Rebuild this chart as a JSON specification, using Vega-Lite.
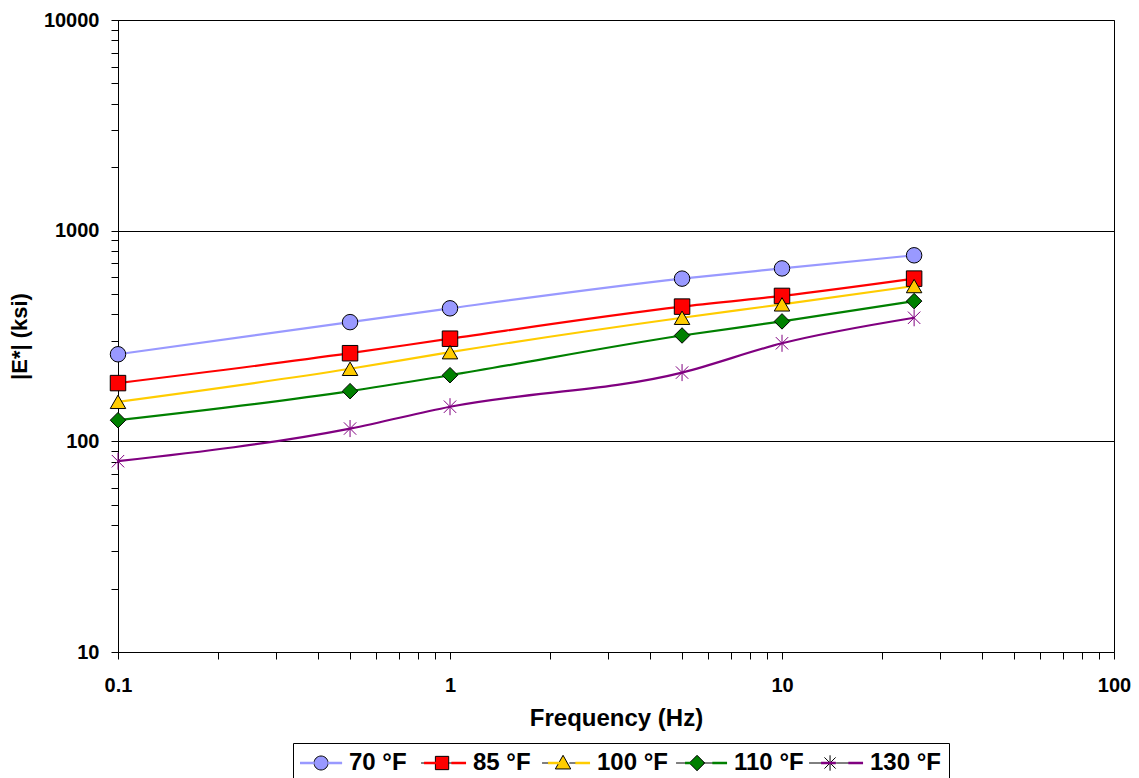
{
  "$schema": "https://vega.github.io/schema/vega-lite/v6.json",
  "width": 996,
  "height": 632,
  "autosize": {"type": "none"},
  "padding": {"left": 118, "top": 20, "right": 25, "bottom": 126},
  "background": "white",
  "config": {
    "view": {"stroke": "#000", "strokeWidth": 1},
    "font": "Liberation Sans",
    "axis": {
      "labelFont": "Liberation Sans", "labelFontWeight": "bold", "labelFontSize": 20, "labelColor": "#000",
      "titleFont": "Liberation Sans", "titleFontWeight": "bold", "titleColor": "#000",
      "domainColor": "#000", "tickColor": "#000", "tickSize": 7, "domainWidth": 1, "tickWidth": 1,
      "labelOverlap": false, "labelFlush": false
    },
    "legend": {
      "labelFont": "Liberation Sans", "labelFontWeight": "bold", "labelFontSize": 24, "labelColor": "#000",
      "symbolSize": 196, "symbolStrokeWidth": 2, "symbolOpacity": 1, "labelOffset": 24, "columnPadding": 12, "padding": 8
    }
  },
  "data": {"values": [
    {"freq": 0.1, "E": 259, "series": "70 °F"},
    {"freq": 0.5, "E": 368, "series": "70 °F"},
    {"freq": 1, "E": 428, "series": "70 °F"},
    {"freq": 5, "E": 592, "series": "70 °F"},
    {"freq": 10, "E": 662, "series": "70 °F"},
    {"freq": 25, "E": 764, "series": "70 °F"},
    {"freq": 0.1, "E": 189, "series": "85 °F"},
    {"freq": 0.5, "E": 262, "series": "85 °F"},
    {"freq": 1, "E": 307, "series": "85 °F"},
    {"freq": 5, "E": 436, "series": "85 °F"},
    {"freq": 10, "E": 490, "series": "85 °F"},
    {"freq": 25, "E": 592, "series": "85 °F"},
    {"freq": 0.1, "E": 154, "series": "100 °F"},
    {"freq": 0.5, "E": 221, "series": "100 °F"},
    {"freq": 1, "E": 265, "series": "100 °F"},
    {"freq": 5, "E": 386, "series": "100 °F"},
    {"freq": 10, "E": 447, "series": "100 °F"},
    {"freq": 25, "E": 546, "series": "100 °F"},
    {"freq": 0.1, "E": 126, "series": "110 °F"},
    {"freq": 0.5, "E": 173, "series": "110 °F"},
    {"freq": 1, "E": 206, "series": "110 °F"},
    {"freq": 5, "E": 318, "series": "110 °F"},
    {"freq": 10, "E": 371, "series": "110 °F"},
    {"freq": 25, "E": 463, "series": "110 °F"},
    {"freq": 0.1, "E": 80.5, "series": "130 °F"},
    {"freq": 0.5, "E": 115, "series": "130 °F"},
    {"freq": 1, "E": 146, "series": "130 °F"},
    {"freq": 5, "E": 212, "series": "130 °F"},
    {"freq": 10, "E": 292, "series": "130 °F"},
    {"freq": 25, "E": 386, "series": "130 °F"}
  ]},
  "layer": [
    {
      "mark": {"type": "line", "interpolate": "monotone", "strokeWidth": 2.2},
      "encoding": {
        "x": {
          "field": "freq", "type": "quantitative",
          "scale": {"type": "log", "domain": [0.1, 100], "nice": false},
          "axis": {
            "title": "Frequency (Hz)", "titleFontSize": 24, "titlePadding": 11,
            "values": [0.1,0.2,0.3,0.4,0.5,0.6,0.7,0.8,0.9,1,2,3,4,5,6,7,8,9,10,20,30,40,50,60,70,80,90,100],
            "labelExpr": "datum.value === 0.1 ? '0.1' : datum.value === 1 ? '1' : datum.value === 10 ? '10' : datum.value === 100 ? '100' : ''",
            "grid": false, "labelPadding": 16
          }
        },
        "y": {
          "field": "E", "type": "quantitative",
          "scale": {"type": "log", "domain": [10, 10000], "nice": false},
          "axis": {
            "title": "|E*| (ksi)", "titleFontSize": 22, "titlePadding": 12,
            "values": [10,20,30,40,50,60,70,80,90,100,200,300,400,500,600,700,800,900,1000,2000,3000,4000,5000,6000,7000,8000,9000,10000],
            "labelExpr": "datum.value === 10 ? '10' : datum.value === 100 ? '100' : datum.value === 1000 ? '1000' : datum.value === 10000 ? '10000' : ''",
            "grid": true, "gridColor": "#000", "gridWidth": 1,
            "gridOpacity": {"condition": {"test": "datum.value === 100 || datum.value === 1000 || datum.value === 10000", "value": 1}, "value": 0},
            "labelPadding": 12
          }
        },
        "stroke": {
          "field": "series", "type": "nominal",
          "sort": ["70 °F", "85 °F", "100 °F", "110 °F", "130 °F"],
          "scale": {"range": ["#9999FF", "#FF0000", "#FFCC00", "#008000", "#800080"]},
          "legend": null
        }
      }
    },
    {
      "transform": [{"filter": "datum.series === '70 °F'"}],
      "mark": {"type": "point", "shape": "circle", "filled": true, "fill": "#9999FF", "stroke": "#000", "strokeWidth": 1, "size": 240, "opacity": 1},
      "encoding": {"x": {"field": "freq", "type": "quantitative"}, "y": {"field": "E", "type": "quantitative"}}
    },
    {
      "transform": [{"filter": "datum.series === '85 °F'"}],
      "mark": {"type": "point", "shape": "square", "filled": true, "fill": "#FF0000", "stroke": "#000", "strokeWidth": 1, "size": 240, "opacity": 1},
      "encoding": {"x": {"field": "freq", "type": "quantitative"}, "y": {"field": "E", "type": "quantitative"}}
    },
    {
      "transform": [{"filter": "datum.series === '100 °F'"}],
      "mark": {"type": "point", "shape": "triangle-up", "filled": true, "fill": "#FFCC00", "stroke": "#000", "strokeWidth": 1, "size": 240, "opacity": 1},
      "encoding": {"x": {"field": "freq", "type": "quantitative"}, "y": {"field": "E", "type": "quantitative"}}
    },
    {
      "transform": [{"filter": "datum.series === '110 °F'"}],
      "mark": {"type": "point", "shape": "diamond", "filled": true, "fill": "#008000", "stroke": "#000", "strokeWidth": 1, "size": 240, "opacity": 1},
      "encoding": {"x": {"field": "freq", "type": "quantitative"}, "y": {"field": "E", "type": "quantitative"}}
    },
    {
      "transform": [{"filter": "datum.series === '130 °F'"}],
      "mark": {"type": "point", "shape": "M0,-1.1V1.1M-0.8,-0.8L0.8,0.8M-0.8,0.8L0.8,-0.8", "filled": false, "stroke": "#800080", "strokeWidth": 1, "size": 240, "opacity": 1},
      "encoding": {"x": {"field": "freq", "type": "quantitative"}, "y": {"field": "E", "type": "quantitative"}}
    },
    {
      "mark": {"type": "point", "filled": true, "opacity": 0},
      "encoding": {
        "x": {"field": "freq", "type": "quantitative"},
        "y": {"field": "E", "type": "quantitative"},
        "fill": {
          "field": "series", "type": "nominal",
          "scale": {"domain": ["70 °F", "85 °F", "100 °F", "110 °F", "130 °F"], "range": ["#9999FF", "#FF0000", "#FFCC00", "#008000", "#800080"]},
          "legend": {
            "title": null, "orient": "none", "legendX": 175, "legendY": 723,
            "direction": "horizontal", "columns": 5, "labelOpacity": 0, "symbolStrokeColor": "#000",
            "encode": {"symbols": {"update": {
              "opacity": {"value": 1},
              "strokeWidth": {"value": 1},
              "stroke": {"condition": {"test": "datum.value === '130 °F'", "value": "#800080"}, "value": "#000"}
            }}}
          }
        },
        "shape": {
          "field": "series", "type": "nominal",
          "scale": {"domain": ["70 °F", "85 °F", "100 °F", "110 °F", "130 °F"], "range": [
            "M-1.85,0H0.25M2.05,0H4.15M0.15,0A1,1,0,1,1,2.15,0A1,1,0,1,1,0.15,0Z",
            "M-1.85,0H0.25M2.05,0H4.15M0.2,-0.95H2.1V0.95H0.2Z",
            "M-1.85,0H0.25M2.05,0H4.15M1.15,-1.1L2.25,0.85L0.05,0.85Z",
            "M-1.85,0H0.25M2.05,0H4.15M1.15,-1.1L2.25,0L1.15,1.1L0.05,0Z",
            "M-1.85,0H0.25M2.05,0H4.15M0.25,0H2.05M1.15,-1.1V1.1M0.35,-0.8L1.95,0.8M0.35,0.8L1.95,-0.8"
          ]},
          "legend": {
            "title": null, "orient": "none", "legendX": 175, "legendY": 723,
            "direction": "horizontal", "columns": 5, "labelOpacity": 0, "symbolStrokeColor": "#000",
            "encode": {"symbols": {"update": {
              "opacity": {"value": 1},
              "strokeWidth": {"value": 1},
              "stroke": {"condition": {"test": "datum.value === '130 °F'", "value": "#800080"}, "value": "#000"}
            }}}
          }
        }
      }
    },
    {
      "mark": {"type": "line", "opacity": 0},
      "encoding": {
        "x": {"field": "freq", "type": "quantitative"},
        "y": {"field": "E", "type": "quantitative"},
        "color": {
          "field": "series", "type": "nominal",
          "sort": ["70 °F", "85 °F", "100 °F", "110 °F", "130 °F"],
          "scale": {"range": ["#9999FF", "#FF0000", "#FFCC00", "#008000", "#800080"]},
          "legend": {
            "title": null, "orient": "none", "legendX": 175, "legendY": 723,
            "direction": "horizontal", "columns": 5, "strokeColor": "#000",
            "symbolType": "M-1.85,0H0.25M2.05,0H4.15",
            "encode": {"symbols": {"update": {
              "opacity": {"value": 1},
              "strokeWidth": {"value": 2.5}
            }}}
          }
        }
      }
    }
  ]
}
